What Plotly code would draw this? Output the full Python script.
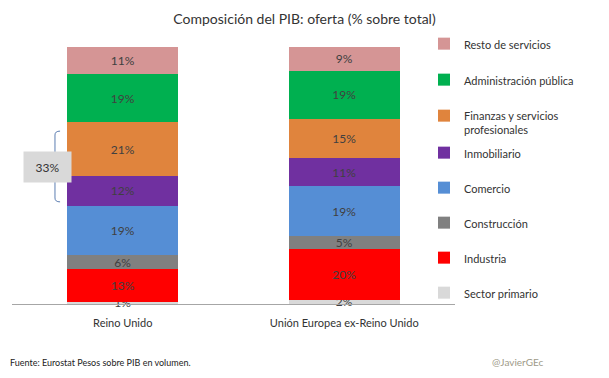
import plotly.graph_objects as go

categories = ["Reino Unido", "Unión Europea ex-Reino Unido"]
sectors = ["Sector primario", "Industria", "Construcción", "Comercio", "Inmobiliario",
           "Finanzas y servicios<br>profesionales", "Administración pública", "Resto de servicios"]
colors = ["#D9D9D9", "#FF0000", "#808080", "#558ED5", "#7030A0", "#E0843D", "#00B050", "#D59595"]
uk_values = [0.9, 12.6, 5.6, 19.1, 11.6, 20.9, 18.6, 10.6]
eu_values = [1.7, 19.6, 5.1, 19.4, 10.9, 15.2, 18.8, 9.2]

FONT = "Lato, Open Sans, sans-serif"

# plot-area geometry (pixels)
L, R, T, B = 12, 455, 47, 304
W, H = R - L, B - T
def px(xp):
    return (xp - L) / W
def py(yp):
    return (B - yp) / H

fig = go.Figure()
n = len(sectors)
for i, s in enumerate(sectors):
    fig.add_trace(go.Bar(
        x=categories, y=[uk_values[i], eu_values[i]], name=s,
        marker=dict(color=colors[i], line=dict(width=0)),
        text=[f"{round(uk_values[i])}%", f"{round(eu_values[i])}%"],
        textposition="inside", insidetextanchor="middle", constraintext="none",
        textfont=dict(family=FONT, size=12, color="#404040"), cliponaxis=(i != 0),
        legendgroup=str(i), legendrank=n - i, hoverinfo="skip",
        legend="legend" if i >= 5 else "legend2",
    ))

# bracket for Inmobiliario + Finanzas (Reino Unido)
low = sum(uk_values[:4])
high = sum(uk_values[:6])
share = round(uk_values[4]) + round(uk_values[5])
y0 = low + 1.5
y1 = high - 3.5
ym = (y0 + y1) / 2
xr, xv, xt = -0.283, -0.306, -0.337
d = 1.5
path = (f"M {xr},{y1} Q {xv},{y1} {xv},{y1-d} L {xv},{ym+d} Q {xv},{ym} {xt},{ym} "
        f"Q {xv},{ym} {xv},{ym-d} L {xv},{y0+d} Q {xv},{y0} {xr},{y0}")
fig.add_shape(type="path", path=path, xref="x", yref="y",
              line=dict(color="#5B7DB1", width=1))
fig.add_annotation(x=px(22.5), xref="paper", y=ym, yref="y", text=f"{share}%",
                   showarrow=False, bgcolor="#D9D9D9", width=45, height=28,
                   font=dict(family=FONT, size=12, color="#333333"))

fig.add_annotation(x=px(8), xref="paper", y=py(362), yref="paper", xanchor="left",
                   text="Fuente: Eurostat Pesos sobre PIB en volumen.", showarrow=False,
                   font=dict(family=FONT, size=9, color="#222222"), yanchor="middle")
fig.add_annotation(x=px(546), xref="paper", y=py(362), yref="paper", xanchor="right",
                   text="@JavierGEc", showarrow=False,
                   font=dict(family=FONT, size=10, color="#9E9A88"), yanchor="middle")

legend_common = dict(x=px(424), xanchor="left", yanchor="top",
                     traceorder="grouped", valign="top",
                     itemwidth=30, font=dict(family=FONT, size=11, color="#333333"),
                     bgcolor="rgba(0,0,0,0)", maxheight=340)

fig.update_layout(
    width=609, height=378,
    barmode="stack", bargap=0.5,
    paper_bgcolor="white", plot_bgcolor="white",
    margin=dict(l=L, r=609 - R, t=T, b=378 - B),
    title=dict(text="Composición del PIB: oferta (% sobre total)", x=0.5, xanchor="center",
               y=1 - 19/378, yanchor="middle",
               font=dict(family=FONT, size=14, color="#333333")),
    font=dict(family=FONT, size=11, color="#333333"),
    xaxis=dict(range=[-0.5, 1.5], showline=True, linecolor="#A6A6A6", linewidth=1,
               ticks="", ticklabelstandoff=9,
               tickfont=dict(family=FONT, size=11, color="#333333"), fixedrange=True),
    yaxis=dict(range=[0, 99.9], visible=False, showgrid=False, zeroline=False),
    legend=dict(y=py(30), tracegroupgap=17, **legend_common),
    legend2=dict(y=py(139), tracegroupgap=16, **legend_common),
    showlegend=True,
)

fig.write_html("out.html", post_script="document.body.style.margin='0';",
               config={"displayModeBar": False})
